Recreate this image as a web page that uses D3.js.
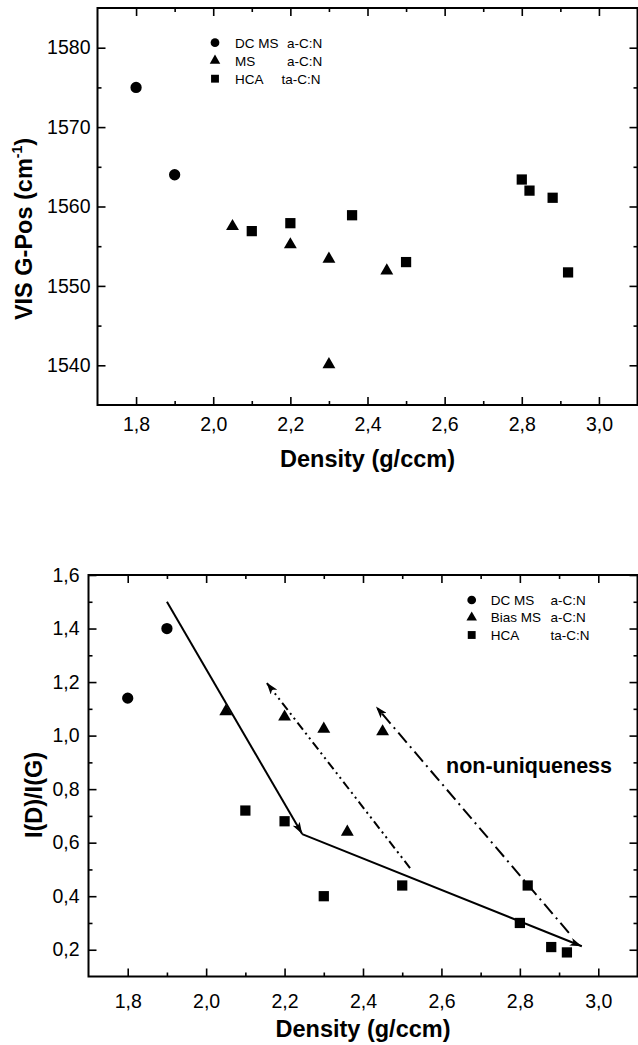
<!DOCTYPE html>
<html>
<head>
<meta charset="utf-8">
<script src="https://cdn.jsdelivr.net/npm/d3@7"></script>
<style>
  html, body { margin: 0; padding: 0; background: #fff; }
  svg { display: block; font-family: "Liberation Sans", Arial, sans-serif; }
</style>
</head>
<body>
<svg id="chart" width="638" height="1045"></svg>
<script>
// --- top panel: G peak position vs density ---
const topDcX = [1.8, 1.9];
const topDcY = [1575, 1564];
const topMsX = [2.05, 2.2, 2.3, 2.45, 2.3];
const topMsY = [1557.5, 1555.2, 1553.4, 1551.9, 1540.1];
const topHcaX = [2.1, 2.2, 2.36, 2.5, 2.8, 2.82, 2.88, 2.92];
const topHcaY = [1556.9, 1557.9, 1558.9, 1553.0, 1563.4, 1562.0, 1561.1, 1551.7];
const topYTicks = [1540, 1550, 1560, 1570, 1580];
const topLegend = [['DC MS', 'a-C:N'], ['MS', 'a-C:N'], ['HCA', 'ta-C:N']];

// --- bottom panel: I(D)/I(G) vs density ---
const botDcX = [1.8, 1.9];
const botDcY = [1.14, 1.40];
const botMsX = [2.05, 2.2, 2.3, 2.45, 2.36];
const botMsY = [1.09, 1.07, 1.025, 1.015, 0.64];
const botHcaX = [2.1, 2.2, 2.3, 2.5, 2.8, 2.82, 2.88, 2.92];
const botHcaY = [0.72, 0.68, 0.40, 0.44, 0.30, 0.44, 0.21, 0.19];
const botYTicks = [0.2, 0.4, 0.6, 0.8, 1.0, 1.2, 1.4, 1.6];
const botLegend = [['DC MS', 'a-C:N'], ['Bias MS', 'a-C:N'], ['HCA', 'ta-C:N']];

// guide lines drawn on bottom panel (data units), arrow at last point
const trendA = [[1.9, 1.5], [2.245, 0.632]];
const trendB = [[2.245, 0.632], [2.958, 0.213]];
const shiftA = [[2.52, 0.505], [2.154, 1.198]];
const shiftB = [[2.925, 0.263], [2.433, 1.109]];

const xTicks = [1.8, 2.0, 2.2, 2.4, 2.6, 2.8, 3.0];
const xMinor = [1.9, 2.1, 2.3, 2.5, 2.7, 2.9];

const svg = d3.select('#chart');
const comma = d => d3.format('.1f')(d).replace('.', ',');

const defs = svg.append('defs');
defs.append('marker')
    .attr('id', 'arrow')
    .attr('viewBox', '0 0 12 8')
    .attr('refX', 12)
    .attr('refY', 4)
    .attr('markerUnits', 'userSpaceOnUse')
    .attr('markerWidth', 12)
    .attr('markerHeight', 8)
    .attr('orient', 'auto')
    .append('path')
    .attr('d', 'M0 0 L12 4 L0 8 L3 4 z')
    .attr('fill', '#000');

const sym = {
    circle: d3.symbol().type(d3.symbolCircle).size(100),
    triangle: d3.symbol().type(d3.symbolTriangle).size(72),
    square: d3.symbol().type(d3.symbolSquare).size(105)
};
const legSym = {
    circle: d3.symbol().type(d3.symbolCircle).size(60),
    triangle: d3.symbol().type(d3.symbolTriangle).size(48),
    square: d3.symbol().type(d3.symbolSquare).size(62)
};

function drawFrame(x, y, yMajor, yMinor, yFmt, opt) {
    const [x0, x1] = x.range();
    const [y0, y1] = y.range();
    const g = svg.append('g');

    // bottom and top ticks (inward)
    g.append('g').attr('transform', `translate(0,${y0})`)
        .call(d3.axisBottom(x).tickValues(xTicks).tickSize(-8).tickFormat(comma).tickPadding(opt.xPad));
    g.append('g').attr('transform', `translate(0,${y0})`)
        .call(d3.axisBottom(x).tickValues(xMinor).tickSize(-4).tickFormat(''));
    g.append('g').attr('transform', `translate(0,${y1})`)
        .call(d3.axisTop(x).tickValues(xTicks).tickSize(-8).tickFormat(''));
    g.append('g').attr('transform', `translate(0,${y1})`)
        .call(d3.axisTop(x).tickValues(xMinor).tickSize(-4).tickFormat(''));

    // left and right
    g.append('g').attr('transform', `translate(${x0},0)`)
        .call(d3.axisLeft(y).tickValues(yMajor).tickSize(-8).tickFormat(yFmt).tickPadding(opt.yPad));
    g.append('g').attr('transform', `translate(${x0},0)`)
        .call(d3.axisLeft(y).tickValues(yMinor).tickSize(-4).tickFormat(''));
    g.append('g').attr('transform', `translate(${x1},0)`)
        .call(d3.axisRight(y).tickValues(yMajor).tickSize(-8).tickFormat(''));
    g.append('g').attr('transform', `translate(${x1},0)`)
        .call(d3.axisRight(y).tickValues(yMinor).tickSize(-4).tickFormat(''));

    g.selectAll('.domain').remove();
    g.selectAll('.tick line').attr('stroke', '#000').attr('stroke-width', 1.6);
    g.selectAll('.tick text')
        .attr('fill', '#000')
        .style('font-size', '19.5px')
        .style('font-family', '"Liberation Sans", Arial, sans-serif');

    g.append('rect')
        .attr('x', x0).attr('y', y1)
        .attr('width', x1 - x0).attr('height', y0 - y1)
        .attr('fill', 'none').attr('stroke', '#000').attr('stroke-width', 2);
    return g;
}

function drawPoints(g, x, y, xs, ys, shape) {
    g.selectAll(null)
        .data(d3.zip(xs, ys))
        .enter()
        .append('path')
        .attr('transform', d => `translate(${x(d[0])},${y(d[1])})`)
        .attr('d', sym[shape])
        .attr('fill', '#000');
}

function drawLegend(g, lx, ly, step, col1, col2, rows) {
    const shapes = ['circle', 'triangle', 'square'];
    rows.forEach((r, i) => {
        const cy = ly + i * step;
        g.append('path')
            .attr('transform', `translate(${lx},${cy})`)
            .attr('d', legSym[shapes[i]])
            .attr('fill', '#000');
        g.append('text').attr('x', col1).attr('y', cy + 4.8)
            .style('font-size', '13.5px').text(r[0]);
        g.append('text').attr('x', col2[i]).attr('y', cy + 4.8)
            .style('font-size', '13.5px').text(r[1]);
    });
}

// ================= top panel =================
const xTop = d3.scaleLinear().domain([1.7, 3.1]).range([97.5, 637.5]);
const yTop = d3.scaleLinear().domain([1535, 1585]).range([405, 8]);
const topMinor = [1545, 1555, 1565, 1575];
const gTop = drawFrame(xTop, yTop, topYTicks, topMinor, d3.format('d'), { xPad: 12, yPad: 7 });

drawPoints(gTop, xTop, yTop, topDcX, topDcY, 'circle');
drawPoints(gTop, xTop, yTop, topMsX, topMsY, 'triangle');
drawPoints(gTop, xTop, yTop, topHcaX, topHcaY, 'square');
drawLegend(gTop, 215, 42.7, 18, 235, [287, 287, 281.5], topLegend);

gTop.append('text')
    .attr('x', (97.5 + 637.5) / 2).attr('y', 467)
    .attr('text-anchor', 'middle')
    .style('font-size', '23.5px').style('font-weight', 'bold')
    .text('Density (g/ccm)');

const topTitle = gTop.append('text')
    .attr('transform', 'translate(32,229) rotate(-90)')
    .attr('text-anchor', 'middle')
    .style('font-size', '23.5px').style('font-weight', 'bold');
topTitle.append('tspan').text('VIS G-Pos (cm');
topTitle.append('tspan').attr('dy', -10).style('font-size', '14px').text('-1');
topTitle.append('tspan').attr('dy', 10).text(')');

// ================= bottom panel =================
const xBot = d3.scaleLinear().domain([1.7, 3.1]).range([88.5, 637.5]);
const yBot = d3.scaleLinear().domain([0.1, 1.6]).range([976.5, 575]);
const botMinor = [0.3, 0.5, 0.7, 0.9, 1.1, 1.3, 1.5];
const gBot = drawFrame(xBot, yBot, botYTicks, botMinor, comma, { xPad: 18, yPad: 9 });

const line = d3.line().x(d => xBot(d[0])).y(d => yBot(d[1]));
[
    { pts: trendA, dash: null },
    { pts: trendB, dash: null },
    { pts: shiftA, dash: '9,4,2,4,2,4' },
    { pts: shiftB, dash: '13,5,2,5' }
].forEach(l => {
    gBot.append('path')
        .attr('d', line(l.pts))
        .attr('fill', 'none')
        .attr('stroke', '#000')
        .attr('stroke-width', 2)
        .attr('stroke-dasharray', l.dash)
        .attr('marker-end', 'url(#arrow)');
});

drawPoints(gBot, xBot, yBot, botDcX, botDcY, 'circle');
drawPoints(gBot, xBot, yBot, botMsX, botMsY, 'triangle');
drawPoints(gBot, xBot, yBot, botHcaX, botHcaY, 'square');
drawLegend(gBot, 471.7, 600, 17.5, 490.7, [550.5, 550.5, 550.5], botLegend);

gBot.append('text')
    .attr('x', 446).attr('y', 773)
    .style('font-size', '21.5px').style('font-weight', 'bold')
    .text('non-uniqueness');

gBot.append('text')
    .attr('x', (88.5 + 637.5) / 2).attr('y', 1037)
    .attr('text-anchor', 'middle')
    .style('font-size', '23.5px').style('font-weight', 'bold')
    .text('Density (g/ccm)');

gBot.append('text')
    .attr('transform', 'translate(42,795) rotate(-90)')
    .attr('text-anchor', 'middle')
    .style('font-size', '23.5px').style('font-weight', 'bold')
    .text('I(D)/I(G)');
</script>
</body>
</html>
